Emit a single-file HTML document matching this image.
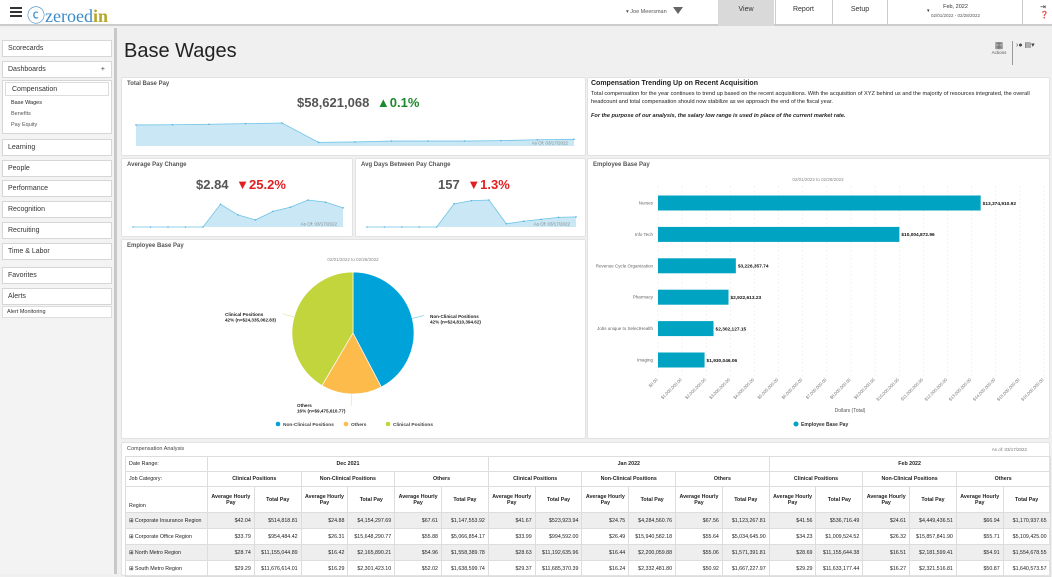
<!DOCTYPE html>
<html><head><meta charset="utf-8">
<style>
*{box-sizing:border-box;margin:0;padding:0}
body{width:1052px;height:574px;overflow:hidden;background:#f0f0f0;font-family:"Liberation Sans",sans-serif;color:#333;position:relative}
.abs{position:absolute}
.panel{position:absolute;background:#fff;border:1px solid #e2e2e2;border-radius:2px}
.ptitle{position:absolute;left:5px;top:3px;font-size:6px;font-weight:bold;color:#555}
.side{position:absolute;left:2px;width:110px;background:#fff;border:1px solid #d6d6d6;font-size:7px;color:#333;padding-left:5px;line-height:15px;height:17px}
.sub{font-size:5.5px;color:#555;position:absolute;left:8px}
table{border-collapse:collapse;table-layout:fixed;font-size:5.3px;color:#222}
td{border:1px solid #ddd;padding:0 3px;overflow:hidden;white-space:nowrap}
.h td{text-align:center;font-weight:bold}
.num td{text-align:right}
.num td:first-child{text-align:left}
.g td{background:#eeeeee}
</style></head><body>
<!-- header -->
<div class="abs" style="left:0;top:0;width:1052px;height:26px;background:#fff;border-bottom:2px solid #ccc"></div>
<div class="abs" style="left:10px;top:7px;width:12px;height:10px;border-top:2px solid #333;border-bottom:2px solid #333"><div style="margin-top:2px;height:2px;background:#333"></div></div>
<div class="abs" style="left:27px;top:2px;font-size:18px;font-family:'Liberation Serif',serif"><span style="color:#3b8bc8">ⓒzeroed</span><span style="color:#b3a829;font-weight:bold">in</span></div>
<div class="abs" style="left:626px;top:9px;font-size:5.5px;color:#555">▾ Joe Meersman</div>
<div class="abs" style="left:673px;top:7px;width:0;height:0;border-left:5px solid transparent;border-right:5px solid transparent;border-top:7px solid #666"></div>
<div class="abs" style="left:718px;top:0;width:56px;height:26px;background:#d9d9d9;font-size:7px;text-align:center;line-height:20px">View</div>
<div class="abs" style="left:775px;top:0;width:56px;height:26px;border-left:1px solid #ccc;font-size:7px;text-align:center;line-height:20px">Report</div>
<div class="abs" style="left:832px;top:0;width:56px;height:26px;border-left:1px solid #ccc;border-right:1px solid #ccc;font-size:7px;text-align:center;line-height:20px">Setup</div>
<div class="abs" style="left:889px;top:0;width:134px;height:26px;border-right:1px solid #ccc;font-size:6px;text-align:center">
<div style="position:absolute;left:38px;top:8px;font-size:5px">▾</div>
<div style="margin-top:4px;font-size:5.5px">Feb, 2022</div><div style="margin-top:3px;font-size:4.5px;color:#555">02/01/2022 - 02/28/2022</div></div>
<div class="abs" style="left:1040px;top:3px;font-size:7px">⇥<br>❓</div>
<!-- sidebar -->
<div class="abs" style="left:0;top:28px;width:117px;height:546px;background:#f3f3f3;border-right:3px solid #c8c8c8"></div>
<div class="side" style="top:40px">Scorecards</div>
<div class="side" style="top:61px">Dashboards<span style="position:absolute;right:6px">+</span></div>
<div class="abs" style="left:2px;top:80px;width:110px;height:54px;background:#fff;border:1px solid #d6d6d6">
<div style="margin:1px 2px;height:14px;border:1px solid #ddd;font-size:7px;padding-left:6px;line-height:13px">Compensation</div>
<div class="sub" style="top:19px;color:#222">Base Wages</div>
<div class="sub" style="top:30px">Benefits</div>
<div class="sub" style="top:41px">Pay Equity</div></div>
<div class="side" style="top:139px">Learning</div>
<div class="side" style="top:160px">People</div>
<div class="side" style="top:180px">Performance</div>
<div class="side" style="top:201px">Recognition</div>
<div class="side" style="top:222px">Recruiting</div>
<div class="side" style="top:243px">Time &amp; Labor</div>
<div class="side" style="top:267px">Favorites</div>
<div class="side" style="top:288px">Alerts</div>
<div class="abs" style="left:2px;top:306px;width:110px;height:12px;background:#fff;border:1px solid #ddd;font-size:5.5px;padding-left:4px;line-height:10px">Alert Monitoring</div>
<!-- title -->
<div class="abs" style="left:124px;top:40px;font-size:20px;color:#222">Base Wages</div>
<div class="abs" style="left:990px;top:41px;width:18px;text-align:center;font-size:4.5px;color:#555"><div style="font-size:9px;line-height:9px;color:#555">▦</div>Actions</div>
<div class="abs" style="left:1012px;top:41px;height:24px;border-left:1px solid #999;padding-left:3px;font-size:7px;color:#444">›● ▤▾</div>
<!-- Total Base Pay -->
<div class="panel" style="left:121px;top:77px;width:465px;height:79px">
<div class="ptitle">Total Base Pay</div>
<div class="abs" style="left:175px;top:17px;font-size:13px;font-weight:bold;color:#555">$58,621,068 <span style="color:#1a8a2a;margin-left:4px">▲0.1%</span></div>
</div>
<svg class="abs" id="sp1" style="left:121px;top:77px" width="465" height="79"></svg>
<div class="panel" style="left:587px;top:77px;width:463px;height:79px;font-size:5.6px;color:#222;padding:2px 3px;line-height:8px">
<div style="font-size:7px;font-weight:bold;margin-bottom:2px">Compensation Trending Up on Recent Acquisition</div>
<div>Total compensation for the year continues to trend up based on the recent acquisitions. With the acquisition of XYZ behind us and the majority of resources integrated, the overall headcount and total compensation should now stabilize as we approach the end of the fiscal year.</div>
<div style="margin-top:6px;font-weight:bold;font-style:italic">For the purpose of our analysis, the salary low range is used in place of the current market rate.</div></div>
<!-- Avg pay change -->
<div class="panel" style="left:121px;top:158px;width:232px;height:79px">
<div class="ptitle">Average Pay Change</div>
<div class="abs" style="left:74px;top:18px;font-size:13px;font-weight:bold;color:#555">$2.84 <span style="color:#e02020;margin-left:4px">▼25.2%</span></div></div>
<svg class="abs" id="sp2" style="left:121px;top:158px" width="232" height="79"></svg>
<div class="panel" style="left:355px;top:158px;width:231px;height:79px">
<div class="ptitle">Avg Days Between Pay Change</div>
<div class="abs" style="left:82px;top:18px;font-size:13px;font-weight:bold;color:#555">157 <span style="color:#e02020;margin-left:4px">▼1.3%</span></div></div>
<svg class="abs" id="sp3" style="left:355px;top:158px" width="231" height="79"></svg>
<!-- Pie -->
<div class="panel" style="left:121px;top:239px;width:465px;height:200px">
<div class="ptitle">Employee Base Pay</div></div>
<svg class="abs" id="pie" style="left:121px;top:239px" width="465" height="200"></svg>
<!-- Bar -->
<div class="panel" style="left:587px;top:158px;width:463px;height:281px">
<div class="ptitle">Employee Base Pay</div></div>
<svg class="abs" id="bar" style="left:587px;top:158px" width="463" height="281"></svg>
<!-- Table -->
<div class="panel" style="left:121px;top:442px;width:929px;height:134px">
<div class="ptitle" style="font-weight:normal;color:#444;font-size:5.5px">Compensation Analysis</div>
<div class="abs" style="right:22px;top:4px;font-size:4.5px;color:#777">As of: 03/17/2022</div>
<table class="abs" style="left:3px;top:13px;width:924px">
<colgroup><col style="width:82px"><col span="18" style="width:46.8px"></colgroup>
<tr class="h" style="height:15px"><td style="text-align:left;font-weight:normal">Date Range:</td><td colspan="6">Dec 2021</td><td colspan="6">Jan 2022</td><td colspan="6">Feb 2022</td></tr>
<tr class="h" style="height:15px"><td style="text-align:left;font-weight:normal">Job Category:</td><td colspan="2">Clinical Positions</td><td colspan="2">Non-Clinical Positions</td><td colspan="2">Others</td><td colspan="2">Clinical Positions</td><td colspan="2">Non-Clinical Positions</td><td colspan="2">Others</td><td colspan="2">Clinical Positions</td><td colspan="2">Non-Clinical Positions</td><td colspan="2">Others</td></tr>
<tr class="h" style="height:26px"><td style="text-align:left;font-weight:normal;vertical-align:bottom;padding-bottom:3px">Region</td>
<td style="white-space:normal">Average Hourly Pay</td><td>Total Pay</td><td style="white-space:normal">Average Hourly Pay</td><td>Total Pay</td><td style="white-space:normal">Average Hourly Pay</td><td>Total Pay</td>
<td style="white-space:normal">Average Hourly Pay</td><td>Total Pay</td><td style="white-space:normal">Average Hourly Pay</td><td>Total Pay</td><td style="white-space:normal">Average Hourly Pay</td><td>Total Pay</td>
<td style="white-space:normal">Average Hourly Pay</td><td>Total Pay</td><td style="white-space:normal">Average Hourly Pay</td><td>Total Pay</td><td style="white-space:normal">Average Hourly Pay</td><td>Total Pay</td></tr>
<tr class="num g" style="height:16px"><td>⊞ Corporate Insurance Region</td><td>$42.04</td><td>$514,818.81</td><td>$24.88</td><td>$4,154,297.69</td><td>$67.61</td><td>$1,147,553.92</td><td>$41.67</td><td>$523,923.94</td><td>$24.75</td><td>$4,284,560.76</td><td>$67.56</td><td>$1,123,267.81</td><td>$41.56</td><td>$536,716.49</td><td>$24.61</td><td>$4,449,436.51</td><td>$66.94</td><td>$1,170,937.65</td></tr>
<tr class="num" style="height:16px"><td>⊞ Corporate Office Region</td><td>$33.79</td><td>$954,484.42</td><td>$26.31</td><td>$15,648,290.77</td><td>$55.88</td><td>$5,066,854.17</td><td>$33.99</td><td>$994,592.00</td><td>$26.49</td><td>$15,940,582.18</td><td>$55.64</td><td>$5,034,645.90</td><td>$34.23</td><td>$1,009,524.52</td><td>$26.32</td><td>$15,857,841.90</td><td>$55.71</td><td>$5,109,425.00</td></tr>
<tr class="num g" style="height:16px"><td>⊞ North Metro Region</td><td>$28.74</td><td>$11,155,044.89</td><td>$16.42</td><td>$2,165,890.21</td><td>$54.96</td><td>$1,558,389.78</td><td>$28.63</td><td>$11,192,635.96</td><td>$16.44</td><td>$2,200,059.88</td><td>$55.06</td><td>$1,571,391.81</td><td>$28.69</td><td>$11,155,644.38</td><td>$16.51</td><td>$2,181,599.41</td><td>$54.91</td><td>$1,554,678.55</td></tr>
<tr class="num" style="height:16px"><td>⊞ South Metro Region</td><td>$29.29</td><td>$11,676,614.01</td><td>$16.29</td><td>$2,301,423.10</td><td>$52.02</td><td>$1,638,599.74</td><td>$29.37</td><td>$11,685,370.39</td><td>$16.24</td><td>$2,332,481.80</td><td>$50.92</td><td>$1,667,227.97</td><td>$29.29</td><td>$11,633,177.44</td><td>$16.27</td><td>$2,321,516.81</td><td>$50.87</td><td>$1,640,573.57</td></tr>
</table></div>
<script>
const totalPayValues=[65.3,65.4,65.6,65.9,66.2,57.2,57.4,57.8,57.8,57.8,58.0,58.4,58.6];
const avgPayChangeValues=[0,0,0,0,0,3.2,1.7,1.0,2.2,2.8,3.8,3.5,2.7];
const avgDaysValues=[0,0,0,0,0,360,410,420,50,90,120,150,157];
const barCategories=["Nurses","Info Tech","Revenue Cycle Organization","Pharmacy","Jobs unique to SelectHealth","Imaging"];
const barValues=[13374910.92,10004872.96,3226357.74,2922613.23,2302127.15,1930046.06];
const barValueLabels=["$13,374,910.92","$10,004,872.96","$3,226,357.74","$2,922,613.23","$2,302,127.15","$1,930,046.06"];
const barTickValues=[0,1,2,3,4,5,6,7,8,9,10,11,12,13,14,15,16];
const pieCategories=["Non-Clinical Positions","Others","Clinical Positions"];
const pieValues=[24810394.62,9475610.77,24335062.83];
const pieLabels=["42% (n=$24,810,394.62)","16% (n=$9,475,610.77)","42% (n=$24,335,062.83)"];
const NS="http://www.w3.org/2000/svg";
function mk(p,t,a){const e=document.createElementNS(NS,t);for(const k in a)e.setAttribute(k,a[k]);p.appendChild(e);return e;}
function spark(id,vals,x0,x1,base,vmin,k,name){
  const s=document.getElementById(id);
  const xs=i=>x0+(x1-x0)*i/(vals.length-1);
  const ys=v=>base-(v-vmin)*k;
  let d="M"+x0+","+base;vals.forEach((v,i)=>d+=" L"+xs(i)+","+ys(v));d+=" L"+x1+","+base+" Z";
  const a=mk(s,"path",{d:d,fill:"#c9e7f4"});
  
  let l="";vals.forEach((v,i)=>l+=(i?" L":"M")+xs(i)+","+ys(v));
  const ln=mk(s,"path",{d:l,fill:"none",stroke:"#6ec3e6","stroke-width":0.8});
  
  vals.forEach((v,i)=>{const c=mk(s,"circle",{cx:xs(i),cy:ys(v),r:0.8,fill:"#4fb3df"});
    });
  const t=mk(s,"text",{x:x1-6,y:base-1.5,"font-size":4.5,fill:"#888","text-anchor":"end"});t.textContent="As Of: 03/17/2022";
  
}
spark("sp1",totalPayValues,15,453,69,55.5,2.15,"total-base-pay-sparkline");
spark("sp2",avgPayChangeValues,12,222,69,0,7.1,"avg-pay-change-sparkline");
spark("sp3",avgDaysValues,12,221,69,0,0.0643,"avg-days-sparkline");
(function(){
  const s=document.getElementById("bar");
  const X0=71,X1=457,maxV=16e6,top0=45,step=31.4,bh=15;
  const xs=v=>X0+(X1-X0)*v/maxV;
  const st=mk(s,"text",{x:231,y:23,"font-size":4.5,fill:"#888","text-anchor":"middle"});st.textContent="02/01/2022 to 02/28/2022";
  
  barTickValues.forEach(t=>{const x=xs(t*1e6);
    const g=mk(s,"line",{x1:x,x2:x,y1:28,y2:218,stroke:"#ececec","stroke-width":0.6,"stroke-dasharray":"2,2"});
    
    const tx=mk(s,"text",{x:x,y:222,"font-size":4.3,fill:"#777","text-anchor":"end",transform:"rotate(-45 "+x+" 222)"});
    tx.textContent="$"+(t===0?"0.00":(t*1000000).toLocaleString("en-US")+".00");
    });
  barCategories.forEach((c,i)=>{const yc=top0+i*step;
    const r=mk(s,"rect",{x:X0,y:yc-bh/2,width:xs(barValues[i])-X0,height:bh,fill:"#00a3c1"});
    
    const l=mk(s,"text",{x:X0-5,y:yc+1.5,"font-size":4.5,fill:"#666","text-anchor":"end"});l.textContent=c;
    
    const v=mk(s,"text",{x:xs(barValues[i])+2,y:yc+1.8,"font-size":4.8,"font-weight":"bold",fill:"#111"});v.textContent=barValueLabels[i];
    });
  const at=mk(s,"text",{x:263,y:254,"font-size":5,fill:"#555","text-anchor":"middle"});at.textContent="Dollars (Total)";
  
  const lc=mk(s,"circle",{cx:209,cy:266,r:2.5,fill:"#00a3c1"});
  const lt=mk(s,"text",{x:214,y:268,"font-size":5,"font-weight":"bold",fill:"#333"});lt.textContent="Employee Base Pay";
  
})();
(function(){
  const s=document.getElementById("pie");
  const cx=232,cy=94,r=61,cols=["#00a2da","#fdbb4b","#c3d53c"];
  const tot=pieValues.reduce((a,b)=>a+b,0);
  const st=mk(s,"text",{x:232,y:22,"font-size":4.5,fill:"#888","text-anchor":"middle"});st.textContent="02/01/2022 to 02/28/2022";
  
  let a0=-Math.PI/2;
  const lab=[{x:309,y:79},{x:176,y:168},{x:104,y:77}];
  pieValues.forEach((v,i)=>{const a1=a0+2*Math.PI*v/tot;
    const p=mk(s,"path",{d:`M${cx},${cy} L${cx+r*Math.cos(a0)},${cy+r*Math.sin(a0)} A${r},${r} 0 ${a1-a0>Math.PI?1:0} 1 ${cx+r*Math.cos(a1)},${cy+r*Math.sin(a1)} Z`,fill:cols[i],stroke:"#fff","stroke-width":0.7});
    
    const am=(a0+a1)/2;
    const cl=mk(s,"line",{x1:cx+r*Math.cos(am),y1:cy+r*Math.sin(am),x2:cx+(r+12)*Math.cos(am),y2:cy+(r+12)*Math.sin(am),stroke:cols[i],"stroke-width":0.6,opacity:0.6});
    
    const t=mk(s,"text",{x:lab[i].x,y:lab[i].y,"font-size":4.6,"font-weight":"bold",fill:"#222"});
    const t1=mk(t,"tspan",{x:lab[i].x,dy:0});t1.textContent=pieCategories[i];
    const t2=mk(t,"tspan",{x:lab[i].x,dy:5.5});t2.textContent=pieLabels[i];
    
    a0=a1;});
  const lx=[157,225,267];
  pieCategories.forEach((c,i)=>{const m=mk(s,"circle",{cx:lx[i],cy:185,r:2.3,fill:cols[i]});
    
    const t=mk(s,"text",{x:lx[i]+5,y:187,"font-size":4.8,"font-weight":"bold",fill:"#444"});t.textContent=c;
    });
})();
</script>
</body></html>
